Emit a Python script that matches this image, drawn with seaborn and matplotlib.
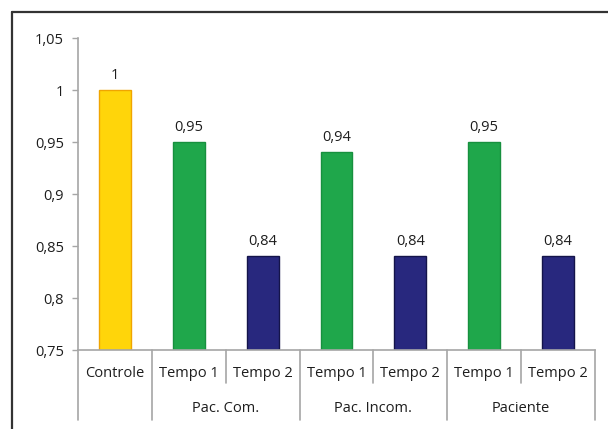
import matplotlib
matplotlib.use("Agg")
import matplotlib.pyplot as plt
import matplotlib.transforms as mtransforms
from matplotlib.colors import to_hex
from matplotlib.lines import Line2D
import seaborn as sns
import pandas as pd

# Data
categorias = ["Controle", "Tempo 1", "Tempo 2", "Tempo 1", "Tempo 2", "Tempo 1", "Tempo 2"]
grupos = ["", "Pac. Com.", "Pac. Com.", "Pac. Incom.", "Pac. Incom.", "Paciente", "Paciente"]
valores = [1.00, 0.95, 0.84, 0.94, 0.84, 0.95, 0.84]
series = ["Controle", "Tempo 1", "Tempo 2", "Tempo 1", "Tempo 2", "Tempo 1", "Tempo 2"]
ytick_vals = [0.75, 0.80, 0.85, 0.90, 0.95, 1.00, 1.05]
ytick_labels = ["0,75", "0,8", "0,85", "0,9", "0,95", "1", "1,05"]

cores = {"Controle": "#FFD50A", "Tempo 1": "#1FA74B", "Tempo 2": "#28287E"}
bordas = {"Controle": "#F0A500", "Tempo 1": "#17903E", "Tempo 2": "#14144A"}

posicoes = [f"{g}|{c}" for g, c in zip(grupos, categorias)]
df = pd.DataFrame({"pos": posicoes, "valor": valores, "serie": series})

sns.set_style("white")
plt.rcParams["font.family"] = ["Open Sans", "DejaVu Sans"]
txt_color = "#1E1E1E"
axis_gray = "#A6A6A6"
fs = 10.5

fig = plt.figure(figsize=(6.08, 4.29), dpi=100)
ax = fig.add_axes([78 / 608, 1 - 350 / 429, (595 - 78) / 608, (350 - 38) / 429])

sns.barplot(data=df, x="pos", y="valor", hue="serie", order=posicoes,
            palette=cores, dodge=False, width=0.43, legend=False, ax=ax,
            saturation=1)

# darker outline per series
for bar in ax.patches:
    fc = to_hex(bar.get_facecolor()).lower()
    for s, c in cores.items():
        if fc == c.lower():
            bar.set_edgecolor(bordas[s])
            bar.set_linewidth(1.0)

ax.set_ylim(0.75, 1.05)
ax.set_xlim(-0.5, len(categorias) - 0.5)
ax.set_yticks(ytick_vals)
ax.set_yticklabels(ytick_labels, fontsize=fs, color=txt_color)
ax.tick_params(axis="y", length=4, color=axis_gray, width=1, pad=6, left=True)
ax.tick_params(axis="x", length=0, labelbottom=False)
ax.set_xlabel("")
ax.set_ylabel("")

for side in ["top", "right"]:
    ax.spines[side].set_visible(False)
for side in ["left", "bottom"]:
    ax.spines[side].set_color(axis_gray)
    ax.spines[side].set_linewidth(1.2)

# Value labels above bars
def fmt(v):
    return f"{v:g}".replace(".", ",")

for container in ax.containers:
    vals = [b.get_height() for b in container]
    labs = [fmt(v) if v > 0 else "" for v in vals]
    ax.bar_label(container, labels=labs, padding=5, fontsize=fs, color=txt_color)

# Two-level category axis
trans = mtransforms.blended_transform_factory(ax.transData, ax.transAxes)
row1_y, row2_y = -0.074, -0.186
short_sep, long_sep = -0.106, -0.224
for i, c in enumerate(categorias):
    ax.text(i, row1_y, c, transform=trans, ha="center", va="center",
            fontsize=fs, color=txt_color)

# separators between categories
n = len(categorias)
for b in range(n + 1):
    xb = b - 0.5
    left_g = grupos[b - 1] if b - 1 >= 0 else None
    right_g = grupos[b] if b < n else None
    same = (left_g is not None and right_g is not None and left_g == right_g)
    y_end = short_sep if same else long_sep
    ax.add_line(Line2D([xb, xb], [0, y_end], transform=trans, color=axis_gray,
                       lw=1.2, clip_on=False))

# group labels
seen = []
for g in grupos:
    if g and g not in seen:
        seen.append(g)
for g in seen:
    idx = [i for i, gg in enumerate(grupos) if gg == g]
    xc = (idx[0] + idx[-1]) / 2
    ax.text(xc, row2_y, g, transform=trans, ha="center", va="center",
            fontsize=fs, color=txt_color)

# outer chart frame
fig.add_artist(Line2D([12 / 608, 1.0], [1 - 12 / 429, 1 - 12 / 429],
                      transform=fig.transFigure, color="#333333", lw=1.6))
fig.add_artist(Line2D([12 / 608, 12 / 608], [0.0, 1 - 12 / 429],
                      transform=fig.transFigure, color="#333333", lw=1.6))

fig.savefig("out.png", dpi=100)
